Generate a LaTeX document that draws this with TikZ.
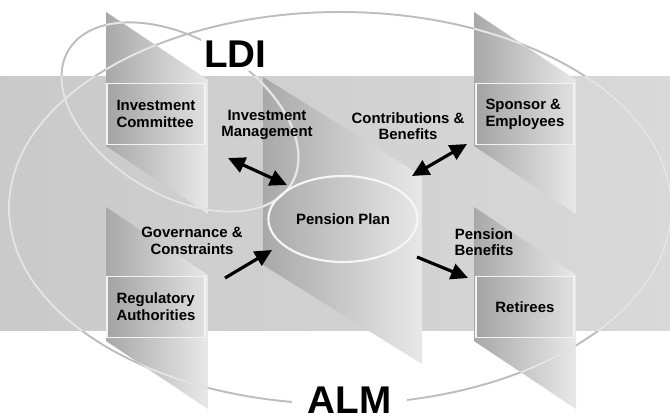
\documentclass[tikz,border=0pt]{standalone}
\usepackage{fontspec}
\setmainfont{Liberation Sans}
\usetikzlibrary{arrows.meta,shapes.geometric}

\newcommand{\rings}[1]{%
  \draw[#1] (340,208) ellipse [x radius=331, y radius=196];
  \draw[#1, rotate around={-31:(180,117)}] (180,117) ellipse [x radius=130, y radius=78];
}
\def\ribbons{106/12/102/68/134, 474/12/102/68/134, 106/207/102/68/134, 474/207/102/68/134, 263/77/159/99/188}

\begin{document}
\begin{tikzpicture}[x=0.02cm, y=-0.02cm, node distance={7.38cm},
  ribbon/.style = {left color=gray!68, right color=gray!18},
  ring/.style = {line width=1.1pt, draw=gray!52},
  ringlit/.style = {line width=1.1pt, draw=gray!20},
  box/.style = {draw=gray!10, line width=1pt, left color=gray!72, right color=gray!24,
    minimum width=1.96cm, minimum height=1.22cm, inner sep=0pt, align=left,
    font=\fontsize{8.5}{9.6}\selectfont\bfseries},
  lbl/.style = {align=center, inner sep=1pt, font=\fontsize{8.5}{9.4}\selectfont\bfseries},
  plan/.style = {ellipse, draw=gray!7, line width=1.2pt, minimum width=2.96cm,
    minimum height=1.72cm, font=\fontsize{8.5}{9.4}\selectfont\bfseries},
  big/.style = {fill=white, font=\fontsize{22}{24}\selectfont\bfseries},
  flow/.style = {line width=1.8pt, -{Triangle[length=0.34cm, width=0.32cm]}},
  flow2/.style = {line width=1.8pt, {Triangle[length=0.34cm, width=0.32cm]}-{Triangle[length=0.34cm, width=0.32cm]}}]
\useasboundingbox (0,0) rectangle (670,419);
\shade[left color=gray!42, right color=gray!30] (0,76) rectangle (670,330);
\foreach \x/\y/\w/\d/\h in \ribbons {
  \shade[ribbon] (\x,\y) -- ++(\w,\d) -- ++(0,\h) -- ++(-\w,-\d) -- cycle;
}
\rings{ring}
\begin{scope}
  \clip (0,76) rectangle (670,330);
  \rings{ringlit}
\end{scope}
\foreach \x/\y/\w/\d/\h in \ribbons {
  \begin{scope}
    \clip (\x,\y) -- ++(\w,\d) -- ++(0,\h) -- ++(-\w,-\d) -- cycle;
    \rings{ringlit}
  \end{scope}
}
\node[box] (invcom) at (156,114) {Investment\\Committee};
\node[box] (sponsor) [right of=invcom] {Sponsor \&\\Employees};
\node[box] (regul) [below of=invcom, node distance=3.86cm] {Regulatory\\Authorities};
\node[box] (retir) [below of=sponsor, node distance=3.86cm] {Retirees};
\node[plan] (plan) at (343,219) {Pension Plan};
\node[lbl] (invman) at (267,125) {Investment\\Management};
\node[lbl] (contrib) at (408,126) {Contributions \&\\Benefits};
\node[lbl] (govern) at (192,241) {Governance \&\\Constraints};
\node[lbl] (penben) at (484,242) {Pension\\Benefits};
\node[big, inner sep=2pt] (ldi) at (235.5,54) {LDI};
\node[big, inner xsep=9pt, inner ysep=0pt] (alm) at (349.5,400) {ALM};
\coordinate (im1) at (228,158);
\coordinate (im2) at (287,185);
\coordinate (cb1) at (412,176);
\coordinate (cb2) at (467,144);
\coordinate (gc1) at (225,278);
\coordinate (gc2) at (272,250);
\coordinate (pb1) at (417,257);
\coordinate (pb2) at (468,278);
\draw[flow2] (im1) -- (im2);
\draw[flow2] (cb1) -- (cb2);
\draw[flow] (gc1) -- (gc2);
\draw[flow] (pb1) -- (pb2);
\end{tikzpicture}
\end{document}
